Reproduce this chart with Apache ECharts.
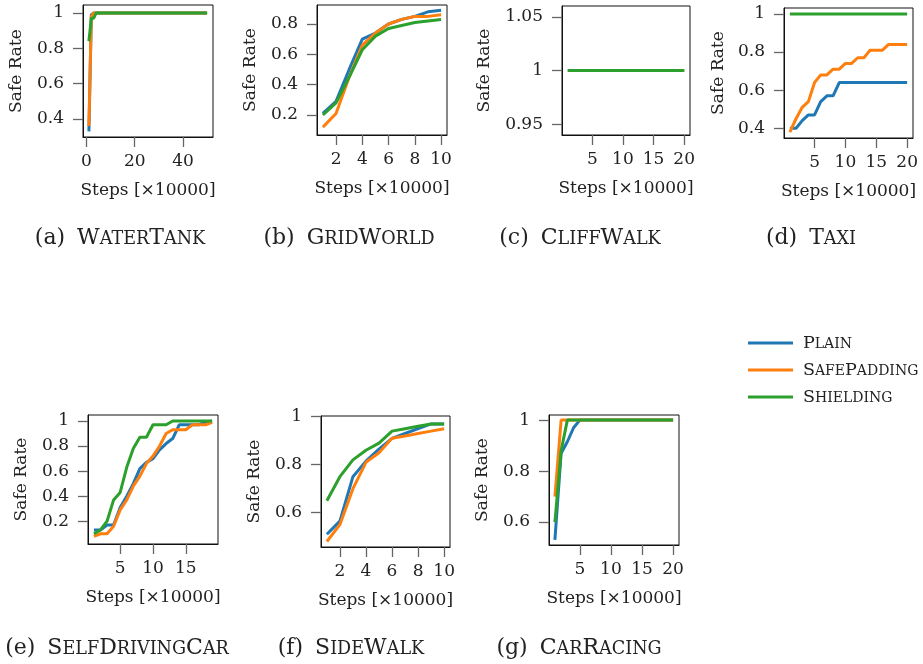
<!DOCTYPE html>
<html>
<head>
<meta charset="utf-8">
<script src="https://cdn.jsdelivr.net/npm/echarts@6/dist/echarts.min.js"></script>
<style>
  html, body { margin: 0; padding: 0; background: #fff; }
  #chart { width: 923px; height: 664px; }
</style>
</head>
<body>
<div id="chart"></div>
<script>
// Training steps, in units of 10000
const stepsWaterTank = [1, 2, 3, 4, 5, 6, 7, 8, 9, 10, 11, 12, 13, 14, 15, 16, 17, 18, 19, 20,
  21, 22, 23, 24, 25, 26, 27, 28, 29, 30, 31, 32, 33, 34, 35, 36, 37, 38, 39, 40,
  41, 42, 43, 44, 45, 46, 47, 48, 49, 50];
const steps10 = [1, 2, 3, 4, 5, 6, 7, 8, 9, 10];
const steps19 = [1, 2, 3, 4, 5, 6, 7, 8, 9, 10, 11, 12, 13, 14, 15, 16, 17, 18, 19];
const steps20 = [1, 2, 3, 4, 5, 6, 7, 8, 9, 10, 11, 12, 13, 14, 15, 16, 17, 18, 19, 20];

// Safe rate per method
const waterTankPlain = [0.33, 0.99, 1, 1, 1, 1, 1, 1, 1, 1, 1, 1, 1, 1, 1, 1, 1, 1, 1, 1,
  1, 1, 1, 1, 1, 1, 1, 1, 1, 1, 1, 1, 1, 1, 1, 1, 1, 1, 1, 1, 1, 1, 1, 1, 1, 1, 1, 1, 1, 1];
const waterTankSafePadding = [0.36, 0.98, 1, 1, 1, 1, 1, 1, 1, 1, 1, 1, 1, 1, 1, 1, 1, 1, 1, 1,
  1, 1, 1, 1, 1, 1, 1, 1, 1, 1, 1, 1, 1, 1, 1, 1, 1, 1, 1, 1, 1, 1, 1, 1, 1, 1, 1, 1, 1, 1];
const waterTankShielding = [0.84, 0.97, 0.97, 1, 1, 1, 1, 1, 1, 1, 1, 1, 1, 1, 1, 1, 1, 1, 1, 1,
  1, 1, 1, 1, 1, 1, 1, 1, 1, 1, 1, 1, 1, 1, 1, 1, 1, 1, 1, 1, 1, 1, 1, 1, 1, 1, 1, 1, 1, 1];

const gridWorldPlain = [0.21, 0.29, 0.50, 0.70, 0.74, 0.80, 0.83, 0.85, 0.88, 0.89];
const gridWorldSafePadding = [0.12, 0.21, 0.45, 0.66, 0.74, 0.80, 0.83, 0.85, 0.85, 0.86];
const gridWorldShielding = [0.20, 0.28, 0.45, 0.63, 0.72, 0.77, 0.79, 0.81, 0.82, 0.83];

const cliffWalkPlain = [1, 1, 1, 1, 1, 1, 1, 1, 1, 1, 1, 1, 1, 1, 1, 1, 1, 1, 1, 1];
const cliffWalkSafePadding = [1, 1, 1, 1, 1, 1, 1, 1, 1, 1, 1, 1, 1, 1, 1, 1, 1, 1, 1, 1];
const cliffWalkShielding = [1, 1, 1, 1, 1, 1, 1, 1, 1, 1, 1, 1, 1, 1, 1, 1, 1, 1, 1, 1];

const taxiPlain = [0.40, 0.40, 0.44, 0.47, 0.47, 0.54, 0.57, 0.57, 0.64, 0.64,
  0.64, 0.64, 0.64, 0.64, 0.64, 0.64, 0.64, 0.64, 0.64, 0.64];
const taxiSafePadding = [0.38, 0.45, 0.51, 0.54, 0.64, 0.68, 0.68, 0.71, 0.71, 0.74,
  0.74, 0.77, 0.77, 0.81, 0.81, 0.81, 0.84, 0.84, 0.84, 0.84];
const taxiShielding = [1, 1, 1, 1, 1, 1, 1, 1, 1, 1, 1, 1, 1, 1, 1, 1, 1, 1, 1, 1];

const selfDrivingCarPlain = [0.13, 0.13, 0.17, 0.17, 0.31, 0.40, 0.50, 0.62, 0.67, 0.70,
  0.77, 0.82, 0.86, 0.97, 0.97, 0.97, 0.97, 0.99, 1.00];
const selfDrivingCarSafePadding = [0.08, 0.10, 0.10, 0.16, 0.29, 0.37, 0.48, 0.56, 0.66, 0.72,
  0.80, 0.90, 0.93, 0.93, 0.93, 0.97, 0.97, 0.97, 0.99];
const selfDrivingCarShielding = [0.10, 0.13, 0.20, 0.37, 0.43, 0.63, 0.78, 0.87, 0.87, 0.97,
  0.97, 0.97, 1.00, 1.00, 1.00, 1.00, 1.00, 1.00, 1.00];

const sideWalkPlain = [0.51, 0.565, 0.75, 0.815, 0.865, 0.91, 0.93, 0.95, 0.97, 0.97];
const sideWalkSafePadding = [0.48, 0.55, 0.70, 0.81, 0.85, 0.91, 0.92, 0.93, 0.94, 0.95];
const sideWalkShielding = [0.65, 0.75, 0.82, 0.86, 0.89, 0.94, 0.95, 0.96, 0.97, 0.97];

const carRacingPlain = [0.53, 0.87, 0.915, 0.97, 1, 1, 1, 1, 1, 1, 1, 1, 1, 1, 1, 1, 1, 1, 1, 1];
const carRacingSafePadding = [0.70, 1, 1, 1, 1, 1, 1, 1, 1, 1, 1, 1, 1, 1, 1, 1, 1, 1, 1, 1];
const carRacingShielding = [0.60, 0.88, 1, 1, 1, 1, 1, 1, 1, 1, 1, 1, 1, 1, 1, 1, 1, 1, 1, 1];

// Tick labels
const xTicksWaterTank = [0, 20, 40];
const xTicksTen = [2, 4, 6, 8, 10];
const xTicksTwenty = [5, 10, 15, 20];
const xTicksNineteen = [5, 10, 15];
const yTicksWaterTank = [0.4, 0.6, 0.8, 1];
const yTicksGridWorld = [0.2, 0.4, 0.6, 0.8];
const yTicksCliffWalk = [0.95, 1, 1.05];
const yTicksTaxi = [0.4, 0.6, 0.8, 1];
const yTicksSelfDrivingCar = [0.2, 0.4, 0.6, 0.8, 1];
const yTicksSideWalk = [0.6, 0.8, 1];
const yTicksCarRacing = [0.6, 0.8, 1];

const methodNames = ['Plain', 'SafePadding', 'Shielding'];
const methodColors = ['#1f77b4', '#ff7f0e', '#2ca02c'];

const FONT = 'DejaVu Serif';
const INK = '#222';

// Small caps built from rich-text runs: capitals at full size, lower-case
// letters upper-cased at a reduced size, all sitting on one baseline.
function smallCaps(word) {
  let out = '', run = '', runUpper = null;
  const flush = () => {
    if (run) out += runUpper ? '{c|' + run + '}' : '{s|' + run.toUpperCase() + '}';
    run = '';
  };
  for (const ch of word) {
    const up = ch === ch.toUpperCase();
    if (runUpper !== null && up !== runUpper) flush();
    runUpper = up;
    run += ch;
  }
  flush();
  return out;
}
function capsRich(size, rowHeight) {
  const small = size * 0.8;
  return {
    n: { fontFamily: FONT, fontSize: size, color: INK, fill: INK, verticalAlign: 'bottom',
      lineHeight: rowHeight, height: rowHeight },
    c: { fontFamily: FONT, fontSize: size, color: INK, fill: INK, verticalAlign: 'bottom',
      lineHeight: rowHeight, height: rowHeight },
    s: { fontFamily: FONT, fontSize: small, color: INK, fill: INK, verticalAlign: 'bottom',
      lineHeight: rowHeight - 0.6 * (size - small), height: rowHeight - 0.6 * (size - small) },
    g: { width: 12, height: rowHeight, lineHeight: rowHeight, verticalAlign: 'bottom' }
  };
}

// Panel layout: plot box, axis ranges, caption placement
const panels = [
  { tag: '(a)', title: 'WaterTank', box: [83, 5, 130, 132], x: [-1.45, 52.45], y: [0.298, 1.045],
    steps: stepsWaterTank, xTicks: xTicksWaterTank, yTicks: yTicksWaterTank, yGap: 58, cap: [120, 238],
    series: [waterTankPlain, waterTankSafePadding, waterTankShielding] },
  { tag: '(b)', title: 'GridWorld', box: [317, 5, 130, 130], x: [0.55, 10.45], y: [0.068, 0.925],
    steps: steps10, xTicks: xTicksTen, yTicks: yTicksGridWorld, yGap: 58, cap: [349, 238],
    series: [gridWorldPlain, gridWorldSafePadding, gridWorldShielding] },
  { tag: '(c)', title: 'CliffWalk', box: [562, 6, 128, 129], x: [0.05, 20.95], y: [0.94, 1.06],
    steps: steps20, xTicks: xTicksTwenty, yTicks: yTicksCliffWalk, yGap: 69, cap: [580, 238],
    series: [cliffWalkPlain, cliffWalkSafePadding, cliffWalkShielding] },
  { tag: '(d)', title: 'Taxi', box: [784, 8, 129, 130], x: [0.05, 20.95], y: [0.349, 1.031],
    steps: steps20, xTicks: xTicksTwenty, yTicks: yTicksTaxi, yGap: 57, cap: [811, 238],
    series: [taxiPlain, taxiSafePadding, taxiShielding] },
  { tag: '(e)', title: 'SelfDrivingCar', box: [88, 415, 130, 129], x: [0.1, 19.9], y: [0.018, 1.048],
    steps: steps19, xTicks: xTicksNineteen, yTicks: yTicksSelfDrivingCar, yGap: 58, cap: [117, 648],
    series: [selfDrivingCarPlain, selfDrivingCarSafePadding, selfDrivingCarShielding] },
  { tag: '(f)', title: 'SideWalk', box: [321, 416, 129, 131], x: [0.55, 10.45], y: [0.457, 1.003],
    steps: steps10, xTicks: xTicksTen, yTicks: yTicksSideWalk, yGap: 58, cap: [351, 648],
    series: [sideWalkPlain, sideWalkSafePadding, sideWalkShielding] },
  { tag: '(g)', title: 'CarRacing', box: [549, 415, 130, 130], x: [0.05, 20.95], y: [0.51, 1.02],
    steps: steps20, xTicks: xTicksTwenty, yTicks: yTicksCarRacing, yGap: 58, cap: [579, 648],
    series: [carRacingPlain, carRacingSafePadding, carRacingShielding] }
];

const fmt = v => String(Math.round(v * 100) / 100);

const grids = [], xAxes = [], yAxes = [], series = [], graphics = [];

panels.forEach((p, i) => {
  grids.push({
    left: p.box[0], top: p.box[1], width: p.box[2], height: p.box[3],
    show: true, borderColor: '#111', borderWidth: 1, backgroundColor: 'transparent'
  });
  const tickStyle = { show: true, length: 10, lineStyle: { color: '#666', width: 1.3 } };
  xAxes.push({
    type: 'value', gridIndex: i, min: p.x[0], max: p.x[1],
    axisLine: { show: true, onZero: false, lineStyle: { color: '#111', width: 1 } },
    axisTick: Object.assign({ customValues: p.xTicks }, tickStyle),
    axisLabel: { customValues: p.xTicks, formatter: fmt, margin: 16, color: INK,
      fontFamily: FONT, fontSize: 17 },
    splitLine: { show: false },
    name: 'Steps [×10000]', nameLocation: 'middle', nameGap: 45,
    nameTextStyle: { fontFamily: FONT, fontSize: 17, color: INK }
  });
  yAxes.push({
    type: 'value', gridIndex: i, min: p.y[0], max: p.y[1],
    axisLine: { show: true, onZero: false, lineStyle: { color: '#111', width: 1 } },
    axisTick: Object.assign({ customValues: p.yTicks }, tickStyle),
    axisLabel: { customValues: p.yTicks, formatter: fmt, margin: 19, color: INK,
      fontFamily: FONT, fontSize: 17 },
    splitLine: { show: false },
    name: 'Safe Rate', nameLocation: 'middle', nameGap: p.yGap,
    nameTextStyle: { fontFamily: FONT, fontSize: 17, color: INK }
  });
  p.series.forEach((vals, k) => {
    series.push({
      type: 'line', name: methodNames[k], xAxisIndex: i, yAxisIndex: i,
      data: p.steps.map((s, j) => [s, vals[j]]),
      showSymbol: false, symbol: 'none', silent: true,
      lineStyle: { width: 3, color: methodColors[k] }, itemStyle: { color: methodColors[k] },
      z: 2 + k
    });
  });
  graphics.push({
    type: 'text', x: p.cap[0], y: p.cap[1],
    style: {
      text: '{n|' + p.tag + '}{g| }' + smallCaps(p.title),
      align: 'center', verticalAlign: 'middle', fill: INK,
      rich: capsRich(22, 26)
    }
  });
});

const chart = echarts.init(document.getElementById('chart'), null, { renderer: 'canvas' });
chart.setOption({
  animation: false,
  backgroundColor: '#fff',
  grid: grids,
  xAxis: xAxes,
  yAxis: yAxes,
  series: series,
  legend: {
    data: methodNames, orient: 'vertical', left: 748, top: 333, padding: 0,
    icon: 'rect', itemWidth: 45, itemHeight: 3, itemGap: 7,
    formatter: name => smallCaps(name),
    textStyle: { color: INK, padding: [0, 0, 0, 5], rich: capsRich(17.5, 20) }
  },
  graphic: graphics
});
</script>
</body>
</html>
